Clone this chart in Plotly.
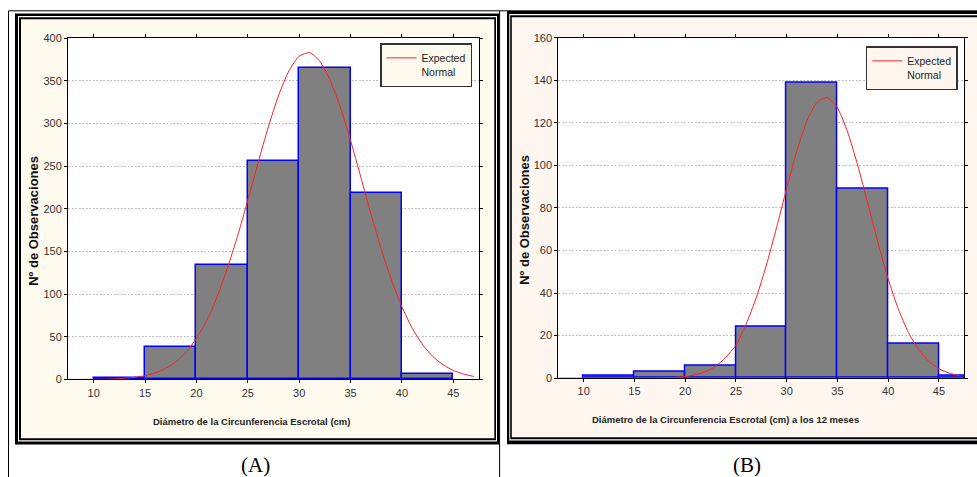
import plotly.graph_objects as go

W, H = 977, 477

# ---------------- data ----------------
bin_centers_a = [12.5, 17.5, 22.5, 27.5, 32.5, 37.5, 42.5]
counts_a = [2, 38, 134, 256, 365, 218, 6]
bin_centers_b = [12.5, 17.5, 22.5, 27.5, 32.5, 37.5, 42.5, 47.5]
counts_b = [1, 3, 6, 24, 139, 89, 16, 1]
bin_width = 5

curve_x = [7.5, 10, 12, 14, 15, 16, 17, 18, 19, 20, 21, 22, 23, 24, 25, 26, 27,
           28, 29, 30, 31, 32, 33, 34, 35, 36, 37, 38, 39, 40, 41, 42, 43, 44,
           45, 46, 47]
curve_a = [0.0, 0.2, 0.7, 2.5, 4.5, 7.8, 12.9, 20.7, 32, 48, 69, 96.5, 130, 168,
           210, 254, 296, 333, 361.5, 378.7, 383, 373, 351, 319, 280, 237, 193,
           152, 116, 85, 60, 41, 27, 17.3, 10.6, 6.3, 3.6]
curve_b = [0.0, 0.0, 0.0, 0.0, 0.01, 0.03, 0.06, 0.16, 0.35, 0.76, 1.6, 3.1, 5.6,
           9.8, 15.5, 25.4, 37.8, 53.1, 70.7, 89.2, 106.8, 121, 129.7, 131.9, 127,
           115.8, 100, 82, 63.6, 46.6, 32.5, 21.4, 13.4, 7.9, 4.4, 2.4, 1.2]

x_ticks = [10, 15, 20, 25, 30, 35, 40, 45]
y_ticks_a = [0, 50, 100, 150, 200, 250, 300, 350, 400]
y_ticks_b = [0, 20, 40, 60, 80, 100, 120, 140, 160]

legend_name = "Expected<br>Normal"
x_title_a = "Diámetro de la Circunferencia Escrotal (cm)"
x_title_b = "Diámetro de la Circunferencia Escrotal (cm) a los 12 meses"
y_title = "Nº de Observaciones"
caption_a = "(A)"
caption_b = "(B)"

# ---------------- helpers ----------------
# vertical correction measured from the rendered output
V_OFF, V_SCALE = 6.0, 0.9736

def px(x):
    return x / W

def py(y):
    return 1 - ((y - V_OFF) / V_SCALE) / H

NARROW = "Liberation Sans Narrow, Liberation Sans, Arial, sans-serif"
SANS = "Liberation Sans, Arial, sans-serif"
SERIF = "Liberation Serif, Times New Roman, serif"
BEIGE_A = "#FFFAEE"
BEIGE_B = "#FFF6F0"
GRID = dict(showgrid=True, gridcolor="#C2C2C2", griddash="2px,1.5px", gridwidth=1)

fig = go.Figure()

fig.add_trace(go.Bar(x=bin_centers_a, y=counts_a, width=bin_width,
                     marker=dict(color="#808080", line=dict(color="#0000FF", width=1.5)),
                     xaxis="x", yaxis="y", showlegend=False))
fig.add_trace(go.Scatter(x=curve_x, y=curve_a, mode="lines", name=legend_name,
                         line=dict(color="#FF2020", width=1, shape="spline", smoothing=0.6),
                         xaxis="x", yaxis="y", legend="legend"))
fig.add_trace(go.Bar(x=bin_centers_b, y=counts_b, width=bin_width,
                     marker=dict(color="#808080", line=dict(color="#0000FF", width=1.5)),
                     xaxis="x2", yaxis="y2", showlegend=False))
fig.add_trace(go.Scatter(x=curve_x, y=curve_b, mode="lines", name=legend_name,
                         line=dict(color="#FF2020", width=1, shape="spline", smoothing=0.6),
                         xaxis="x2", yaxis="y2", legend="legend2"))

axis_common = dict(showline=True, linecolor="#000000", linewidth=1, mirror="ticks",
                   ticks="outside", ticklen=3, tickcolor="#000000", tickwidth=1,
                   zeroline=False,
                   tickfont=dict(family=NARROW, size=11, color="#333333"))

fig.update_layout(
    width=W, height=H, autosize=False,
    margin=dict(l=0, r=0, t=0, b=0),
    paper_bgcolor="#FFFFFF", plot_bgcolor="rgba(0,0,0,0)",
    bargap=0, barmode="overlay",
    xaxis=dict(domain=[px(68), px(479)], range=[7.5, 47.5], tickvals=x_ticks,
               showgrid=False, anchor="y", **axis_common),
    yaxis=dict(domain=[py(379), py(38)], range=[0, 400], tickvals=y_ticks_a,
               anchor="x", **GRID, **axis_common),
    xaxis2=dict(domain=[px(558.3), px(964.3)], range=[7.5, 47.5], tickvals=x_ticks,
                showgrid=False, anchor="y2", **axis_common),
    yaxis2=dict(domain=[py(377.7), py(37.7)], range=[0, 160], tickvals=y_ticks_b,
                anchor="x2", **GRID, **axis_common),
    legend=dict(x=px(472), y=py(43), xanchor="right", yanchor="top",
                bgcolor=BEIGE_A, bordercolor="#333333", borderwidth=1.5,
                font=dict(family=NARROW, size=10.5, color="#222222"),
                itemwidth=30, valign="top", tracegroupgap=0),
    legend2=dict(x=px(957.7), y=py(46), xanchor="right", yanchor="top",
                 bgcolor=BEIGE_B, bordercolor="#333333", borderwidth=1.5,
                 font=dict(family=NARROW, size=10.5, color="#222222"),
                 itemwidth=30, valign="top", tracegroupgap=0),
)

shapes = []

def rect(x0, y0, x1, y1, color):
    shapes.append(dict(type="rect", xref="paper", yref="paper",
                       x0=px(x0), x1=px(x1), y0=py(y1), y1=py(y0),
                       fillcolor=color, line=dict(width=0), layer="below"))

def line(x0, y0, x1, y1, width=1):
    shapes.append(dict(type="line", xref="paper", yref="paper",
                       x0=px(x0), x1=px(x1), y0=py(y0), y1=py(y1),
                       line=dict(color="#000000", width=width), layer="below"))

# table cell borders
line(8.5, 10.8, 990, 10.8)
line(8.5, 10.8, 8.5, 490)
line(499.6, 10.8, 499.6, 490)

# frame A (double border)
rect(15, 13.5, 499.3, 444, "#000000")
rect(18, 16, 497, 441, "#FFFFFF")
rect(19, 17.3, 496, 439.7, "#000000")
rect(21, 19.3, 494.3, 437.7, BEIGE_A)
rect(68, 38, 479, 379, "#FFFFFF")

# frame B (double border)
rect(507, 11, 990, 443.7, "#000000")
rect(509.3, 14, 990, 440, "#FFFFFF")
rect(510.2, 15.3, 990, 438.7, "#000000")
rect(511.8, 17.3, 990, 436.7, BEIGE_B)
rect(558.3, 37.7, 964.3, 377.7, "#FFFFFF")

fig.update_layout(shapes=shapes)

annotations = [
    dict(text="<b>" + x_title_a + "</b>", x=px(251), y=py(420.5), xref="paper", yref="paper",
         showarrow=False, xanchor="center", yanchor="middle",
         font=dict(family=NARROW, size=9.5, color="#222222")),
    dict(text="<b>" + x_title_b + "</b>", x=px(725.3), y=py(419.3), xref="paper", yref="paper",
         showarrow=False, xanchor="center", yanchor="middle",
         font=dict(family=NARROW, size=9.5, color="#222222")),
    dict(text="<b>" + y_title + "</b>", x=px(33.5), y=py(221), xref="paper", yref="paper",
         showarrow=False, xanchor="center", yanchor="middle", textangle=-90,
         font=dict(family=SANS, size=13, color="#111111")),
    dict(text="<b>" + y_title + "</b>", x=px(524.5), y=py(220), xref="paper", yref="paper",
         showarrow=False, xanchor="center", yanchor="middle", textangle=-90,
         font=dict(family=SANS, size=13, color="#111111")),
    dict(text=caption_a, x=px(255.3), y=py(464), xref="paper", yref="paper",
         showarrow=False, xanchor="center", yanchor="middle",
         font=dict(family=SERIF, size=21, color="#000000")),
    dict(text=caption_b, x=px(746.7), y=py(464), xref="paper", yref="paper",
         showarrow=False, xanchor="center", yanchor="middle",
         font=dict(family=SERIF, size=21, color="#000000")),
]
fig.update_layout(annotations=annotations)

fig.write_html("out.html",
               config={"displayModeBar": False},
               post_script="document.body.style.margin='0px';"
                           "document.body.style.overflow='hidden';")
